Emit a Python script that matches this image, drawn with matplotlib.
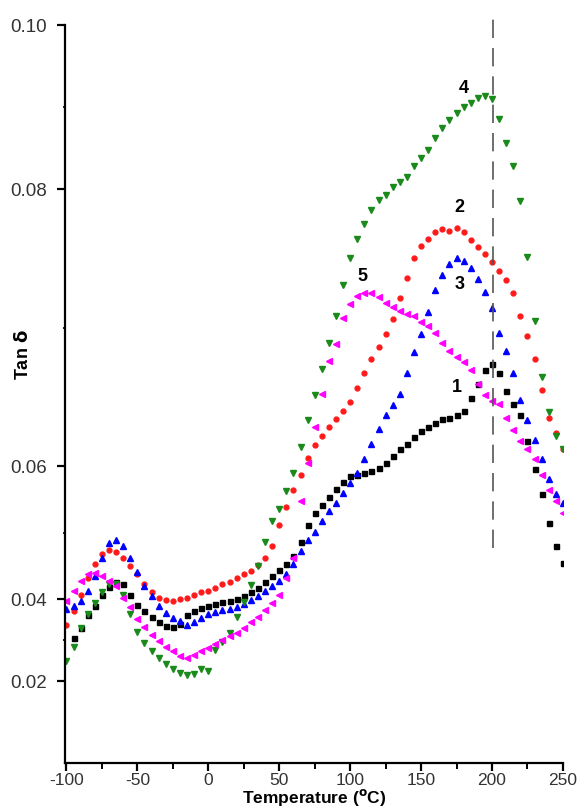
import matplotlib
matplotlib.use('Agg')
import matplotlib.pyplot as plt
import numpy as np

plt.rcParams['font.family'] = ['Liberation Sans', 'DejaVu Sans']

# ------------------------- data -------------------------
temp = np.arange(-100, 255, 5)
temp_1 = np.arange(-95, 255, 5)

tan_1 = [0.0304, 0.0330, 0.0360, 0.0384, 0.0406, 0.0418, 0.0425, 0.0422, 0.0406, 0.0386,
         0.0370, 0.0356, 0.0344, 0.0334, 0.0332, 0.0340, 0.0360, 0.0370, 0.0378, 0.0382,
         0.0388, 0.0392, 0.0396, 0.0400, 0.0405, 0.0410, 0.0416, 0.0425, 0.0435, 0.0443,
         0.0453, 0.0464, 0.0486, 0.0511, 0.0529, 0.0542, 0.0553, 0.0566, 0.0576, 0.0585,
         0.0587, 0.0589, 0.0592, 0.0597, 0.0602, 0.0607, 0.0612, 0.0616, 0.0621, 0.0625,
         0.0628, 0.0631, 0.0634, 0.0635, 0.0637, 0.0640, 0.0649, 0.0659, 0.0669, 0.0674,
         0.0667, 0.0654, 0.0645, 0.0637, 0.0618, 0.0595, 0.0558, 0.0515, 0.0479, 0.0454]

tan_2 = [0.0336, 0.0370, 0.0406, 0.0431, 0.0452, 0.0468, 0.0474, 0.0470, 0.0462, 0.0449,
         0.0437, 0.0422, 0.0410, 0.0402, 0.0398, 0.0396, 0.0400, 0.0402, 0.0406, 0.0410,
         0.0412, 0.0417, 0.0422, 0.0426, 0.0431, 0.0437, 0.0442, 0.0451, 0.0462, 0.0479,
         0.0511, 0.0538, 0.0564, 0.0587, 0.0606, 0.0615, 0.0622, 0.0628, 0.0634, 0.0640,
         0.0646, 0.0656, 0.0667, 0.0677, 0.0686, 0.0695, 0.0706, 0.0721, 0.0736, 0.0750,
         0.0759, 0.0764, 0.0769, 0.0771, 0.0770, 0.0772, 0.0769, 0.0763, 0.0758, 0.0753,
         0.0747, 0.0741, 0.0734, 0.0725, 0.0708, 0.0694, 0.0677, 0.0655, 0.0635, 0.0624,
         0.0612]

tan_3 = [0.0376, 0.0384, 0.0396, 0.0412, 0.0435, 0.0462, 0.0484, 0.0489, 0.0479, 0.0462,
         0.0441, 0.0420, 0.0405, 0.0384, 0.0366, 0.0354, 0.0346, 0.0336, 0.0344, 0.0354,
         0.0364, 0.0368, 0.0372, 0.0376, 0.0380, 0.0388, 0.0398, 0.0405, 0.0412, 0.0420,
         0.0427, 0.0437, 0.0452, 0.0472, 0.0489, 0.0501, 0.0517, 0.0532, 0.0545, 0.0560,
         0.0575, 0.0590, 0.0605, 0.0616, 0.0627, 0.0637, 0.0644, 0.0652, 0.0667, 0.0682,
         0.0695, 0.0711, 0.0727, 0.0738, 0.0746, 0.0750, 0.0748, 0.0743, 0.0735, 0.0726,
         0.0714, 0.0696, 0.0683, 0.0667, 0.0648, 0.0633, 0.0619, 0.0605, 0.0581, 0.0558,
         0.0545]

tan_4 = [0.0250, 0.0282, 0.0330, 0.0364, 0.0390, 0.0410, 0.0422, 0.0422, 0.0406, 0.0364,
         0.0320, 0.0292, 0.0272, 0.0256, 0.0242, 0.0230, 0.0220, 0.0214, 0.0218, 0.0230,
         0.0224, 0.0276, 0.0294, 0.0316, 0.0356, 0.0392, 0.0421, 0.0449, 0.0486, 0.0517,
         0.0535, 0.0563, 0.0590, 0.0614, 0.0633, 0.0651, 0.0670, 0.0689, 0.0708, 0.0731,
         0.0750, 0.0764, 0.0775, 0.0785, 0.0792, 0.0796, 0.0802, 0.0808, 0.0815, 0.0828,
         0.0838, 0.0848, 0.0862, 0.0874, 0.0884, 0.0893, 0.0900, 0.0905, 0.0911, 0.0913,
         0.0910, 0.0885, 0.0856, 0.0828, 0.0791, 0.0751, 0.0705, 0.0664, 0.0639, 0.0622,
         0.0612]

tan_5 = [0.0396, 0.0412, 0.0427, 0.0437, 0.0439, 0.0435, 0.0427, 0.0420, 0.0402, 0.0380,
         0.0352, 0.0332, 0.0312, 0.0298, 0.0284, 0.0272, 0.0260, 0.0256, 0.0264, 0.0272,
         0.0280, 0.0290, 0.0300, 0.0310, 0.0318, 0.0330, 0.0344, 0.0356, 0.0372, 0.0390,
         0.0406, 0.0431, 0.0462, 0.0548, 0.0602, 0.0628, 0.0652, 0.0676, 0.0688, 0.0707,
         0.0717, 0.0723, 0.0725, 0.0725, 0.0722, 0.0718, 0.0715, 0.0712, 0.0710, 0.0708,
         0.0704, 0.0701, 0.0696, 0.0689, 0.0683, 0.0679, 0.0675, 0.0669, 0.0659, 0.0651,
         0.0647, 0.0645, 0.0635, 0.0626, 0.0618, 0.0612, 0.0605, 0.0587, 0.0564, 0.0547,
         0.0529]

curve_labels = ['1', '2', '3', '4', '5']
label_pos = [(175, 0.0657), (177, 0.0787), (177, 0.0731), (180, 0.0923), (109, 0.0737)]
peak_temp = 201

# the printed y axis is not evenly spaced: tick values and where they sit
ytick_vals = [0.0, 0.02, 0.04, 0.06, 0.08, 0.10, 0.12]
ytick_room = [0, 82, 164, 297, 574, 738, 902]


def y_fwd(v):
    return np.interp(v, ytick_vals, ytick_room)


def y_inv(p):
    return np.interp(p, ytick_room, ytick_vals)


# ------------------------------- figure ------------------------------------
fig = plt.figure(figsize=(5.79, 8.07), dpi=100)
ax = fig.add_axes([0.1123, 0.0545, 0.8600, 0.9145])
ax.set_yscale('function', functions=(y_fwd, y_inv))

ax.plot(temp_1, tan_1, 's', color='black', ms=3.6, ls='none')
ax.plot(temp, tan_2, 'o', color='#ff1a1a', ms=3.5, ls='none')
ax.plot(temp, tan_3, '^', color='#0000ff', ms=4.0, ls='none')
ax.plot(temp, tan_4, 'v', color='#1a8a1a', ms=4.0, ls='none')
ax.plot(temp, tan_5, '<', color='#ff00ff', ms=4.0, ls='none')

ax.plot([peak_temp, peak_temp], [0.0476, 0.1017], color='#555555', lw=1.2,
        dashes=(11, 6), clip_on=False)

for lab, (tx, ty) in zip(curve_labels, label_pos):
    ax.text(tx, ty, lab, fontsize=13, fontweight='bold', ha='center', va='center')

ax.set_xlim(-101, 250)
ax.set_ylim(0.0, 0.10)
ax.set_xticks([-100, -50, 0, 50, 100, 150, 200, 250])
ax.set_xticklabels(['-100', '-50', '0', '50', '100', '150', '200', '250'])
ax.set_xticks(np.arange(-75, 250, 50), minor=True)
ax.set_yticks([0.02, 0.04, 0.06, 0.08, 0.10])
ax.set_yticklabels(['0.02', '0.04', '0.06', '0.08', '0.10'])
ax.set_yticks([0.03, 0.05, 0.07, 0.09], minor=True)

ax.spines['top'].set_visible(False)
ax.spines['right'].set_visible(False)
ax.spines['left'].set_linewidth(1.6)
ax.spines['bottom'].set_linewidth(1.6)
ax.tick_params(which='major', direction='out', length=6, width=1.6,
               labelsize=13.5, labelcolor='#333333')
ax.tick_params(axis='y', which='major', pad=7)
ax.tick_params(axis='x', which='major', pad=1.5, labelsize=12.5)
ax.tick_params(axis='x', which='minor', direction='out', length=4, width=1.4)
ax.tick_params(axis='y', which='minor', direction='out', length=1.5, width=1.2)

ax.set_xlabel(r'Temperature ($^{\mathbf{o}}$C)', fontsize=12.5, fontweight='bold')
ax.xaxis.set_label_coords(0.50, -0.0325)
ax.set_ylabel(r'Tan $\mathbf{\delta}$', fontsize=13, fontweight='bold')
ax.yaxis.set_label_coords(-0.066, 0.553)

fig.savefig('out.png', dpi=100)
